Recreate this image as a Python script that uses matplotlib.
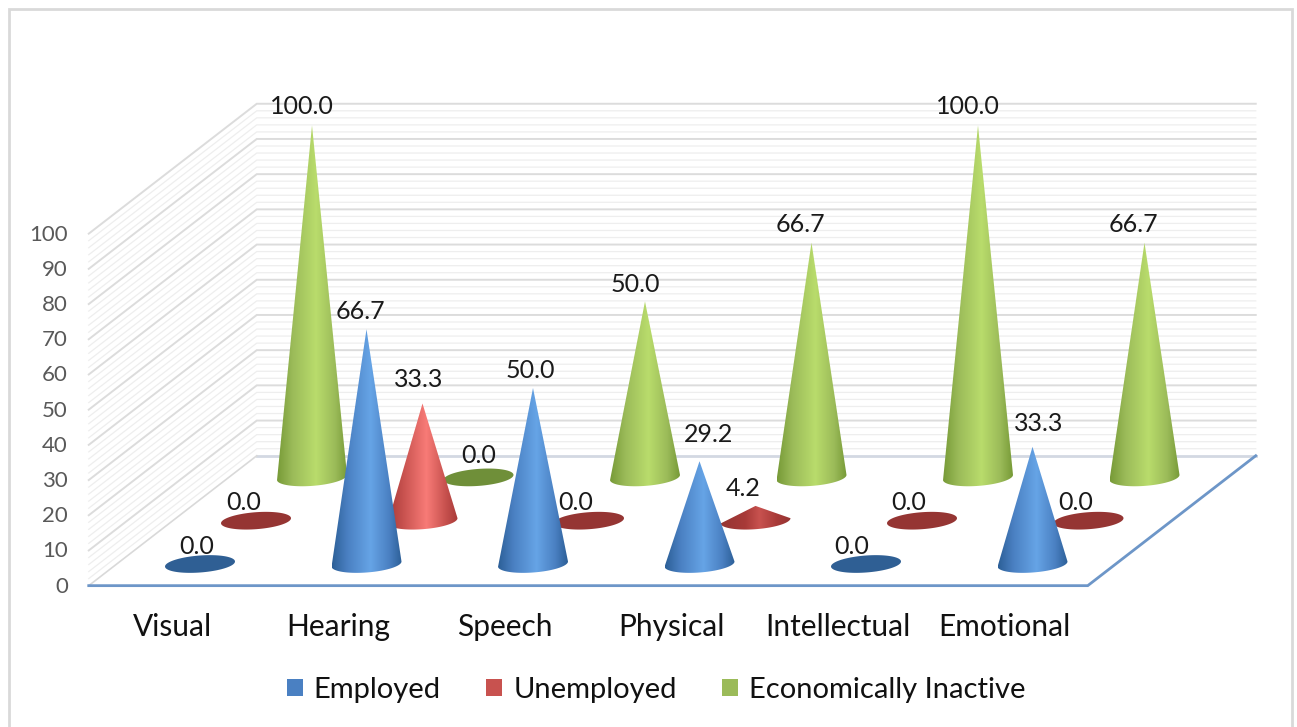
import numpy as np
import matplotlib
matplotlib.use("Agg")
import matplotlib.pyplot as plt
from matplotlib.colors import LinearSegmentedColormap
from matplotlib.patches import Polygon, Rectangle

categories = ["Visual", "Hearing", "Speech", "Physical", "Intellectual", "Emotional"]
series_names = ["Employed", "Unemployed", "Economically Inactive"]
employed = [0.0, 66.7, 50.0, 29.2, 0.0, 33.3]
unemployed = [0.0, 33.3, 0.0, 4.2, 0.0, 0.0]
inactive = [100.0, 0.0, 50.0, 66.7, 100.0, 66.7]
value_ticks = list(range(0, 101, 10))

plt.rcParams["font.family"] = ["Lato", "DejaVu Sans"]

W, H = 1297, 727
PX_CAT, PX_VAL = 166.5, 3.52      # pixels per category / per value unit
X0, Y0 = 200.0, 564.0             # pixel of category 0, value 0, first series
DEPTH_X = 56.0 / PX_CAT           # shift per series
DEPTH_Y = 43.3 / PX_VAL

fig = plt.figure(figsize=(W / 100, H / 100), dpi=100, facecolor="white")
ax = fig.add_axes([0, 0, 1, 1])
ax.set_xlim(-X0 / PX_CAT, (W - X0) / PX_CAT)
ax.set_ylim((Y0 - H) / PX_VAL, Y0 / PX_VAL)
ax.axis("off")


def proj(cat, depth, val):
    return cat + depth * DEPTH_X, val + depth * DEPTH_Y


C0, C1 = -0.5, len(categories) - 0.5
D0, D1 = -0.5, 2.5
px_x, px_y = 1 / PX_CAT, 1 / PX_VAL


def wall_lines(val, color, lw, z):
    a = proj(C0, D0, val)
    b = proj(C0, D1, val)
    c = proj(C1, D1, val)
    ax.plot([a[0], b[0], c[0]], [a[1], b[1], c[1]], color=color, lw=lw,
            solid_joinstyle="miter", zorder=z)


for v in np.arange(0, 100.1, 2):
    if v % 10:
        wall_lines(v, "#eeeeee", 0.9, 1)
for v in value_ticks[1:]:
    wall_lines(v, "#dcdcdc", 1.4, 2)

# floor
floor = [proj(C0, D0, 0), proj(C1, D0, 0), proj(C1, D1, 0), proj(C0, D1, 0)]
ax.add_patch(Polygon(floor, closed=True, fc="white", ec="none", zorder=3))
ax.plot(*zip(floor[3], floor[2]), color="#d3d8e2", lw=2, zorder=3.1)
ax.plot(*zip(floor[0], floor[3]), color="#d9d9d9", lw=1.2, zorder=3.1)
ax.plot(*zip(floor[0], floor[1], floor[2]), color="#6d96c8", lw=2,
        solid_joinstyle="miter", zorder=3.2)

# cones: base, edge, highlight, flat
styles = [
    ("#4a80c2", "#2c5f97", "#66a4e6", "#2f5f94"),
    ("#c8524f", "#a83a38", "#f87b77", "#953533"),
    ("#9bbb59", "#779a37", "#b9dc6c", "#6f8f39"),
]
HALF_W = 35.0 * px_x
HALF_H = 8.5 * px_y
TILT = (5.0 / 70.0) * (PX_CAT / PX_VAL)


def draw_cone(cat, depth, val, colors, z):
    base, edge, light, flat = colors
    cx, cy = proj(cat, depth, 0)
    t = np.linspace(0, 2 * np.pi, 90)
    ex = HALF_W * np.cos(t)
    ey = HALF_H * np.sin(t) + TILT * ex
    if val == 0:
        ax.add_patch(Polygon(np.c_[cx + ex, cy + ey], closed=True, fc=flat,
                             ec="none", zorder=z))
        return
    low = t[(t >= np.pi) & (t <= 2 * np.pi)]
    bx = HALF_W * np.cos(low)
    by = HALF_H * np.sin(low) + TILT * bx
    pts = np.r_[[[cx, cy + val]], np.c_[cx + bx, cy + by]]
    patch = Polygon(pts, closed=True, fc="none", ec="none", transform=ax.transData)
    ax.add_patch(patch)
    if val < 10:
        stops = [(0, flat), (0.35, edge), (0.55, base), (0.8, edge), (1, flat)]
    else:
        stops = [(0, edge), (0.22, base), (0.55, light), (0.82, base), (1, edge)]
    cmap = LinearSegmentedColormap.from_list("c", stops, N=256)
    grad = np.linspace(0, 1, 256)[None, :]
    im = ax.imshow(grad, cmap=cmap, vmin=0, vmax=1, aspect="auto", zorder=z,
                   extent=[cx - HALF_W, cx + HALF_W, cy - 2 * HALF_H - abs(TILT * HALF_W),
                           cy + val + 1], interpolation="bilinear")
    im.set_clip_path(patch)


all_series = [employed, unemployed, inactive]
for s in (2, 1, 0):
    for i, v in enumerate(all_series[s]):
        draw_cone(i, s, v, styles[s], 10 - s + i * 0.01)

# data labels: offset from the tip, in pixels
label_offsets = {
    0: [(-3, -17), (-6, -18), (-3, -17), (9, -27), (-14, -17), (6, -23)],
    1: [(-12, -18), (-4, -24), (-13, -18), (-12, -17), (-13, -18), (-13, -18)],
    2: [(-10, -19), (0, -22), (-10, -17), (-11, -18), (-10, -19), (-11, -18)],
}
for s, vals in enumerate(all_series):
    for i, v in enumerate(vals):
        x, y = proj(i, s, v)
        ox, oy = label_offsets[s][i]
        ax.text(x + ox * px_x, y - oy * px_y, f"{v:.1f}", ha="center", va="center",
                fontsize=18, color="#1a1a1a", zorder=20)

# value axis labels
for v in value_ticks:
    x, y = proj(C0, D0, v)
    ax.text(x - 21 * px_x, y - 1 * px_y, str(v), ha="right", va="center", fontsize=16,
            color="#595959", zorder=20)

# category labels
for i, c in enumerate(categories):
    x, y = proj(i, D0, 0)
    ax.text(x, y - 41 * px_y, c, ha="center", va="center", fontsize=21.5,
            color="#111111", zorder=20)

# legend
handles = [Rectangle((0, 0), 1, 1, fc=styles[k][0], ec="none") for k in range(3)]
leg = ax.legend(handles, series_names, loc="center", ncol=3, frameon=False,
                bbox_to_anchor=(656 / W, 1 - 690 / H), fontsize=21,
                handlelength=0.55, handleheight=0.55, handletextpad=0.38,
                columnspacing=1.55, labelcolor="#111111", borderpad=0, borderaxespad=0)
leg.set_zorder(20)

# chart frame, running off the lower edge of the picture
fig.add_artist(Rectangle((8.5 / W, -0.01), (1291.5 - 8.5) / W, 1.01 - 8.5 / H,
                         transform=fig.transFigure, fc="none", ec="#d9d9d9", lw=2))

fig.savefig("out.png", dpi=100, facecolor="white")
